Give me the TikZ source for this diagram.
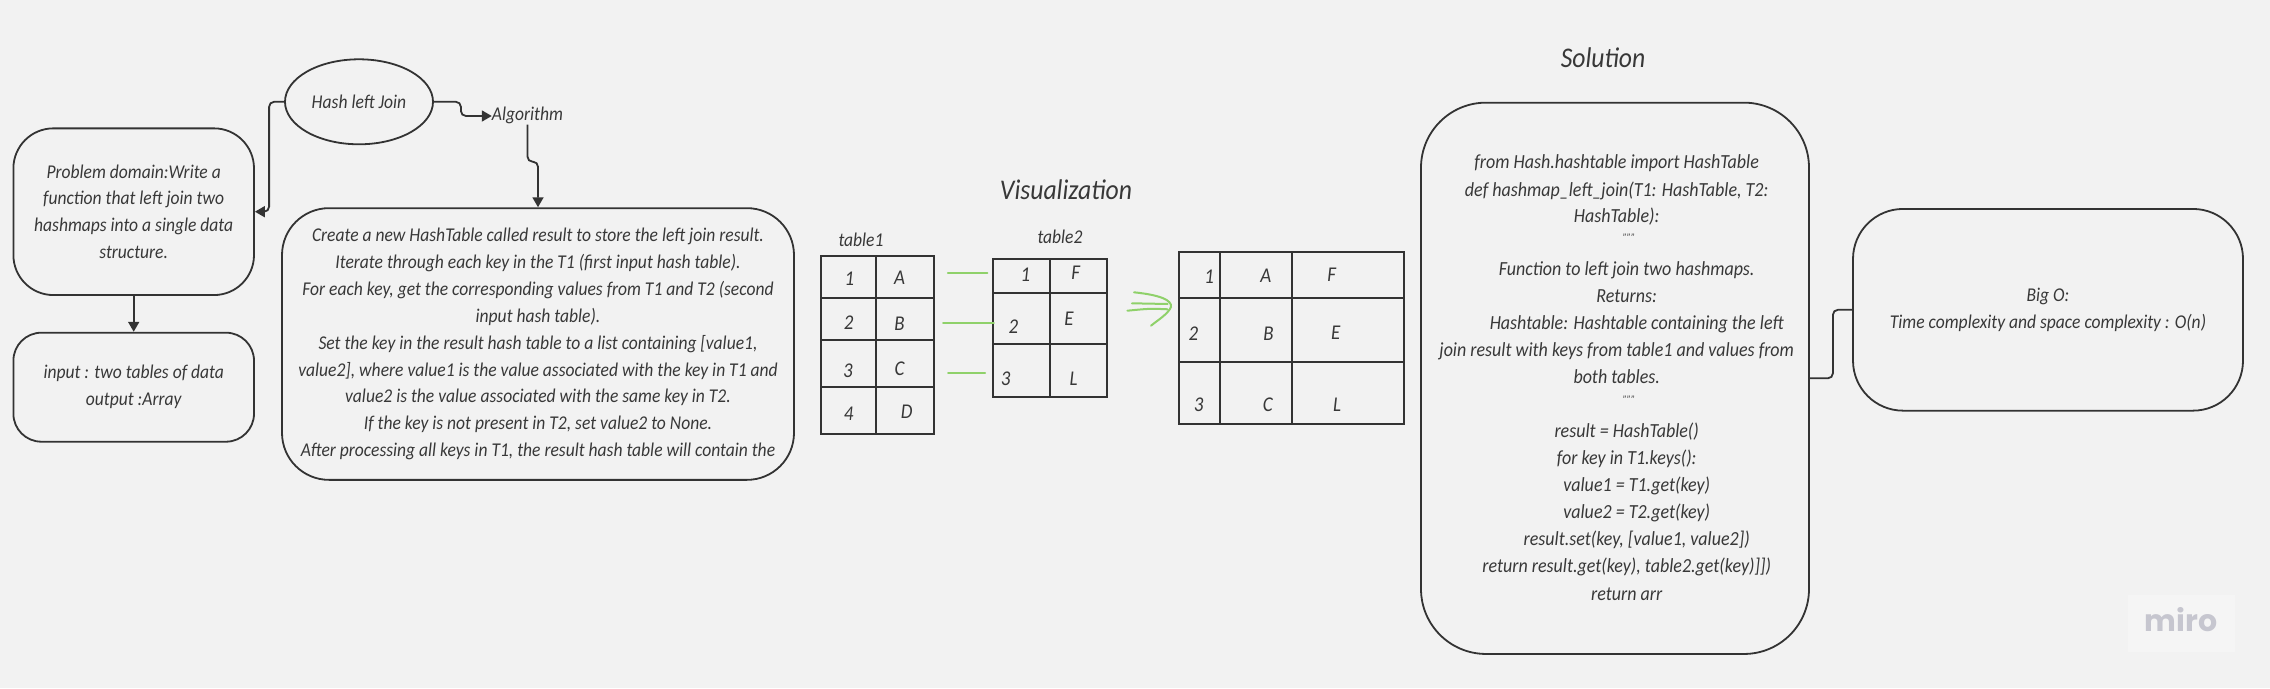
\documentclass[tikz,border=0pt]{standalone}
\usepackage{fontspec}
\setmainfont{Carlito}[FakeStretch=0.9]
\newfontfamily\logofont{Poppins}
\usetikzlibrary{shapes.geometric,arrows.meta}
\definecolor{bg}{HTML}{F2F2F2}
\definecolor{wmbg}{HTML}{F5F5F5}
\definecolor{ink}{HTML}{333333}
\definecolor{txt}{HTML}{383838}
\definecolor{grn}{HTML}{8FD16A}
\definecolor{mirogray}{HTML}{C6C6CF}
\newcommand\hw{\fontsize{19.5}{26.9}\selectfont\itshape}
\newcommand\hwsol{\fontsize{20}{26.9}\selectfont\itshape}
\newcommand\hwcell{\fontsize{21}{21}\selectfont\itshape}
\newcommand\hwtitle{\fontsize{28.5}{28.5}\selectfont\itshape}
\begin{document}
\begin{tikzpicture}[x=1pt,y=-1pt,
  box/.style={draw=ink,line width=1.8pt,rectangle,text=txt,align=center,font=\hw,inner sep=0pt},
  conn/.style={draw=ink,line width=1.8pt,rounded corners=5pt},
  tip/.style={-{Triangle[length=10pt,width=11pt]}},
  gridline/.style={draw=ink,line width=2pt},
  cell/.style={text=txt,font=\hwcell,inner sep=0pt},
  label/.style={text=txt,font=\hw,inner sep=0pt,text height=13pt,text depth=4pt},
  solline/.style={text=txt,font=\hwsol,inner sep=0pt,text height=13pt,text depth=4pt},
  title/.style={text=txt,font=\hwtitle,inner sep=0pt},
  greenline/.style={draw=grn,line width=2pt,line cap=round}]
\useasboundingbox (0,0) rectangle (2270,688);
\fill[bg] (0,0) rectangle (2270,688);

% ---------- left part ----------
\node[box,ellipse,minimum width=148pt,minimum height=85pt] (ell) at (359,101.8) {Hash left Join};
\node[label] (algo) at (527.5,116) {Algorithm};
\node[box,rounded corners=40pt,minimum width=240.6pt,minimum height=166.7pt] (prob) at (133.7,211.7)
  {Problem domain:Write a\\function that left join two\\hashmaps into a single data\\structure.};
\node[box,rounded corners=28pt,minimum width=240.6pt,minimum height=109pt] (inp) at (133.7,387.2)
  {input : two tables of data\\output :Array};
\node[box,rounded corners=47pt,minimum width=512pt,minimum height=271.7pt] (algbox) at (538,344)
  {Create a new HashTable called result to store the left join result.\\
   Iterate through each key in the T1 (first input hash table).\\
   For each key, get the corresponding values from T1 and T2 (second\\
   input hash table).\\
   Set the key in the result hash table to a list containing [value1,\\
   value2], where value1 is the value associated with the key in T1 and\\
   value2 is the value associated with the same key in T2.\\
   If the key is not present in T2, set value2 to None.\\
   After processing all keys in T1, the result hash table will contain the};

\draw[conn,tip] (ell.east) -- ++(27,0) |- (algo.west);
\draw[conn,tip] (ell.west) -- ++(-15,0) |- (prob.east);
\draw[conn,tip] (algo.south) -- ++(0,37) -| (algbox.north);
\draw[conn,tip] (prob.south) -- (inp.north);

% ---------- visualization ----------
\node[title] (vis) at (1066,190) {Visualization};
\node[label] (t1lab) at (861,241.7) {table1};
\node[label] (t2lab) at (1060,239.3) {table2};

% table 1
\draw[gridline] (821,255.7) rectangle (934.4,434);
\draw[gridline] (876.3,255.7) -- (876.3,434);
\draw[gridline] (821,297.7) -- (934.4,297.7);
\draw[gridline] (821,340) -- (934.4,340);
\draw[gridline] (821,386.7) -- (934.4,386.7);
\node[cell] (a1) at (849.4,278.3) {1};
\node[cell] (a2) at (899.6,277.3) {A};
\node[cell] (a3) at (848.6,322.3) {2};
\node[cell] (a4) at (899.6,323.3) {B};
\node[cell] (a5) at (848,370.7) {3};
\node[cell] (a6) at (899.6,368.3) {C};
\node[cell] (a7) at (848.6,413.3) {4};
\node[cell] (a8) at (906.8,411.7) {D};

% table 2
\draw[gridline] (993,259.3) rectangle (1106.8,397.3);
\draw[gridline] (1049.5,259.3) -- (1049.5,397.3);
\draw[gridline] (993,292.7) -- (1106.8,292.7);
\draw[gridline] (993,344) -- (1106.8,344);
\node[cell] (b1) at (1025.4,275) {1};
\node[cell] (b2) at (1075.6,272.7) {F};
\node[cell] (b3) at (1013.5,326.7) {2};
\node[cell] (b4) at (1068.9,318.3) {E};
\node[cell] (b5) at (1005.6,378.3) {3};
\node[cell] (b6) at (1073.6,378.3) {L};

% green strokes
\draw[greenline] (947.9,273.3) -- (987.4,273.3);
\draw[greenline] (943,322.7) -- (993.8,322.7);
\draw[greenline] (948,373.3) -- (985,373.3);
\draw[greenline] (1134,292.3) .. controls (1160,295) and (1172,300) .. (1171,307)
                 .. controls (1168,314) and (1158,320) .. (1151,325.7);
\draw[greenline] (1132,303.3) -- (1167.7,304);
\draw[greenline] (1127.4,310.7) .. controls (1150,308.5) .. (1167.7,309.3);

% result table
\draw[gridline] (1178.8,252.3) rectangle (1404.2,424);
\draw[gridline] (1220.3,252.3) -- (1220.3,424);
\draw[gridline] (1291.9,252.3) -- (1291.9,424);
\draw[gridline] (1178.8,298.3) -- (1404.2,298.3);
\draw[gridline] (1178.8,362.3) -- (1404.2,362.3);
\node[cell] (c1) at (1209.2,276.7) {1};
\node[cell] (c2) at (1265.8,276) {A};
\node[cell] (c3) at (1331.8,275) {F};
\node[cell] (c4) at (1193.4,334) {2};
\node[cell] (c5) at (1268.5,333.3) {B};
\node[cell] (c6) at (1335.8,332.7) {E};
\node[cell] (c7) at (1198.6,405) {3};
\node[cell] (c8) at (1267.8,405) {C};
\node[cell] (c9) at (1337,404.3) {L};

% ---------- solution ----------
\node[title] (soltitle) at (1603,58) {Solution};
\node[box,rounded corners=65pt,minimum width=388pt,minimum height=551.3pt] (sol) at (1615,378.3) {};
\foreach \i/\yy/\dx/\t in {
  1/164/0/{from Hash.hashtable import HashTable},
  2/191.7/0/{def hashmap\_left\_join(T1: HashTable, T2:},
  3/218/0/{HashTable):},
  5/271/10/{Function to left join two hashmaps.},
  6/298/10/{Returns:},
  7/325/20/{Hashtable: Hashtable containing the left},
  8/352/0/{join result with keys from table1 and values from},
  9/379/0/{both tables.},
  11/433/10/{result = HashTable()},
  12/460/10/{for key in T1.keys():},
  13/487/20/{value1 = T1.get(key)},
  14/514/20/{value2 = T2.get(key)},
  15/541/20/{result.set(key, [value1, value2])},
  16/568/10/{return result.get(key), table2.get(key)]])},
  17/596/10/{return arr}}
  \node[solline] (s\i) at (1616.7+\dx,\yy) {\t};
\node[text=txt,inner sep=0pt,font=\fontsize{11}{11}\selectfont\itshape] (s4) at (1629,238) {"""};
\node[text=txt,inner sep=0pt,font=\fontsize{11}{11}\selectfont\itshape] (s10) at (1629,400) {"""};

% ---------- Big O ----------
\node[box,rounded corners=50pt,minimum width=390pt,minimum height=201.7pt] (bigo) at (2048,309.8)
  {Big O:\\Time complexity and space complexity : O(n)};
\draw[conn] (sol.east) -- ++(23,0) |- (bigo.west);

% ---------- watermark ----------
\fill[wmbg] (2128,595) rectangle (2235,652);
\node[text=mirogray,inner sep=0pt,font=\logofont\bfseries\fontsize{30}{30}\selectfont] (miro) at (2181,620) {miro};
\end{tikzpicture}
\end{document}
